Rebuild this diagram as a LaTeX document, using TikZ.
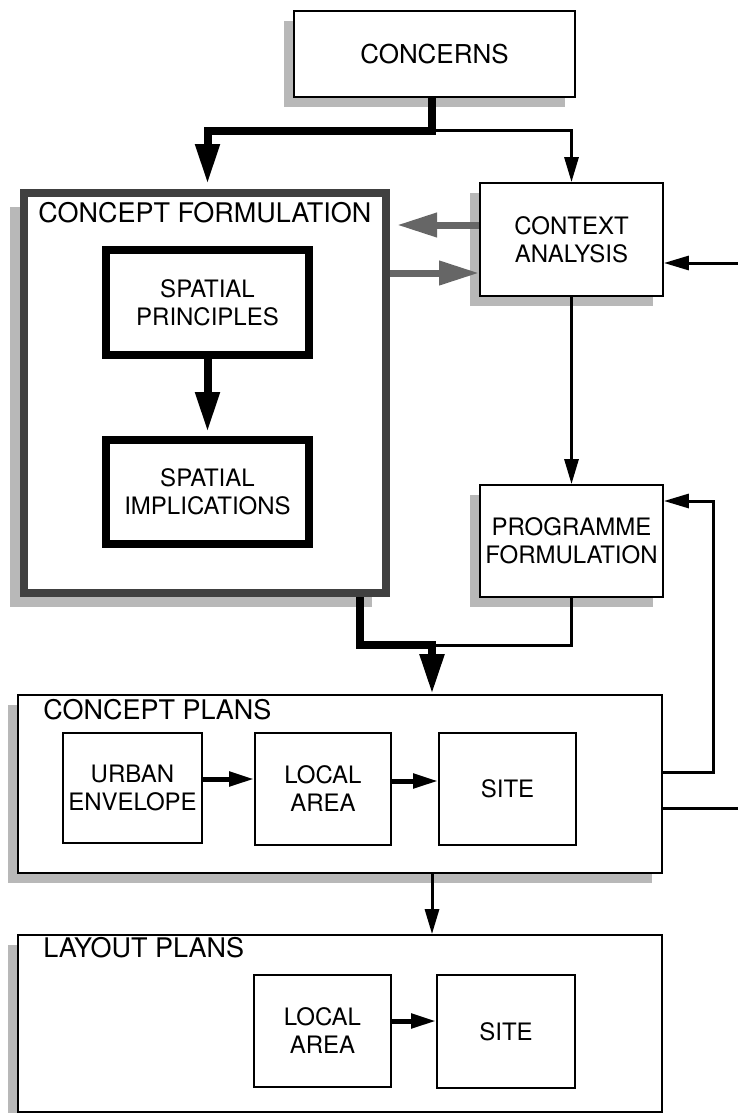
\documentclass[tikz,border=0pt]{standalone}
\usepackage{fontspec}
\setmainfont{TeX Gyre Heros}
\usepackage{tikz}
\usetikzlibrary{arrows.meta,shadows,calc}
\definecolor{shadowgrey}{gray}{0.72}
\definecolor{framegrey}{gray}{0.25}
\definecolor{linkgrey}{gray}{0.4}

\begin{document}
\begin{tikzpicture}[x=0.5pt,y=-0.5pt,
    box/.style={draw, line width=0.9pt, fill=white, inner sep=1pt, align=center,
        font=\fontsize{12}{14}\selectfont},
    shadowed/.style={drop shadow={shadow xshift=-5pt, shadow yshift=-5pt, fill=shadowgrey, opacity=1}},
    heavybox/.style={box, line width=4pt},
    heading/.style={anchor=base west, inner sep=0pt, font=\fontsize{13.5}{16}\selectfont},
    flow/.style={line width=1.5pt, -{Triangle[length=12.5pt,width=7pt]}},
    bigflow/.style={line width=4pt, -{Triangle[length=20pt,width=11.5pt]}},
    greyflow/.style={draw=linkgrey, line width=3.5pt, -{Triangle[length=20pt,width=11.5pt]}, color=linkgrey},
    smallflow/.style={line width=2.5pt, -{Triangle[length=12.5pt,width=7pt]}}
]
\useasboundingbox (0,0) rectangle (738,1113);

% Top boxes
\node[box, shadowed, minimum width=140.5pt, minimum height=43pt, font=\fontsize{13}{15}\selectfont] (concerns) at (434.5,54) {CONCERNS};
\node[box, shadowed, minimum width=91.5pt, minimum height=56.5pt] (context) at (571.5,239.5) {CONTEXT\\ANALYSIS};
\node[box, shadowed, minimum width=91.5pt, minimum height=56pt] (programme) at (571.5,541) {PROGRAMME\\FORMULATION};

% Concept formulation
\node[heavybox, draw=framegrey, drop shadow={shadow xshift=-7pt, shadow yshift=-7pt, fill=shadowgrey, opacity=1},
    minimum width=181pt, minimum height=200pt] (cf) at (205,393) {};
\node[heading] (cftitle) at (38,222) {CONCEPT FORMULATION};
\node[heavybox, minimum width=101.5pt, minimum height=52.5pt] (principles) at (207.5,302.5) {SPATIAL\\PRINCIPLES};
\node[heavybox, minimum width=101.5pt, minimum height=52pt] (implications) at (207.5,492) {SPATIAL\\IMPLICATIONS};

% Concept plans
\node[box, shadowed, minimum width=322pt, minimum height=89pt] (cplans) at (340,784) {};
\node[heading] (cptitle) at (43,719) {CONCEPT PLANS};
\node[box, minimum width=69.5pt, minimum height=55pt] (envelope) at (132.5,788) {URBAN\\ENVELOPE};
\node[box, minimum width=68pt, minimum height=56pt] (local1) at (323,789) {LOCAL\\AREA};
\node[box, minimum width=68.5pt, minimum height=56pt] (site1) at (507.5,789) {SITE};

% Layout plans
\node[box, shadowed, minimum width=322pt, minimum height=88.5pt] (lplans) at (340,1023.5) {};
\node[heading] (lptitle) at (43,957) {LAYOUT PLANS};
\node[box, minimum width=68.5pt, minimum height=56pt] (local2) at (322.5,1031) {LOCAL\\AREA};
\node[box, minimum width=69pt, minimum height=56.5pt] (site2) at (506,1031.5) {SITE};

% Junctions
\coordinate (fork) at (432,131);
\coordinate (merge) at (432,645);
\coordinate (feedin) at (738,263);
\coordinate (feedout) at (738,808);
\coordinate (loopcorner) at (713,501);

% Connectors
\draw[bigflow, shorten >=2.5pt] (fork |- concerns.south) -- (fork) -| (principles.north |- cf.north);
\draw[flow] (fork) -| (context.north);
\draw[greyflow, shorten >=3.5pt] ([yshift=7.25pt]context.west) -- ([yshift=7.25pt]context.west -| cf.east);
\draw[greyflow] ([yshift=-16.75pt]context.west -| cf.east) -- ([yshift=-16.75pt]context.west);
\draw[flow] (feedin) -- (feedin -| context.east);
\draw[flow] (context) -- (programme);
\draw[bigflow, shorten >=2pt] (principles) -- (implications);

\draw[bigflow] ([xshift=-15pt]cf.south east) |- (merge) -- (merge |- cplans.north);
\draw[line width=1.5pt] (programme.south) |- (merge);
\draw[flow] ([yshift=6pt]cplans.east) -| (loopcorner) -- (loopcorner -| programme.east);
\draw[line width=1.5pt] (feedout -| cplans.east) -- (feedout);

\draw[smallflow] ([yshift=4.5pt]envelope.east) -- ([yshift=4.5pt]envelope.east -| local1.west);
\draw[smallflow] ([yshift=4pt]local1.east) -- ([yshift=4pt]local1.east -| site1.west);
\draw[flow] (cplans.south -| merge) -- (lplans.north -| merge);
\draw[smallflow] ([yshift=5pt]local2.east) -- ([yshift=5pt]local2.east -| site2.west);
\end{tikzpicture}
\end{document}
